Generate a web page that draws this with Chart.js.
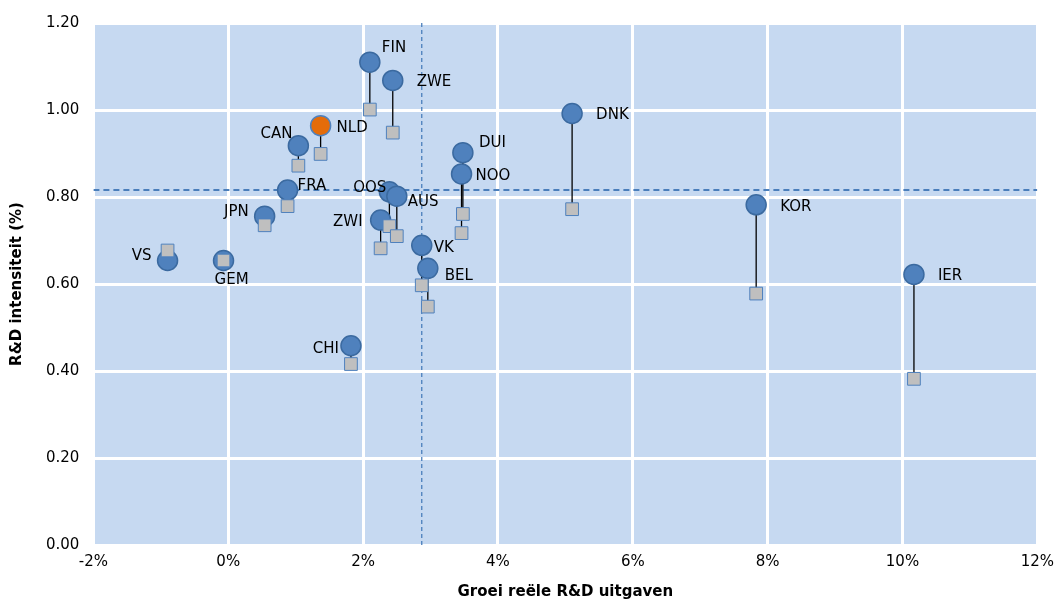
<!DOCTYPE html>
<html><head><meta charset="utf-8">
<script src="https://cdn.jsdelivr.net/npm/chart.js@4"></script>
<style>html,body{margin:0;padding:0;background:#fff}#w{width:1062px;height:601px}</style>
</head><body><div id="w"><canvas id="c"></canvas></div>
<script>
const countries = ["FIN","ZWE","NLD","CAN","DNK","DUI","NOO","FRA","OOS","AUS","JPN","ZWI","KOR","VS","GEM","VK","BEL","IER","CHI"];
const growth    = [2.10,2.44,1.37,1.04,5.10,3.48,3.46,0.88,2.39,2.50,0.54,2.26,7.83,-0.90,-0.07,2.87,2.96,10.17,1.82];
const intensityNow  = [1.110,1.068,0.964,0.918,0.992,0.902,0.853,0.816,0.812,0.802,0.756,0.747,0.782,0.654,0.654,0.689,0.636,0.622,0.458];
const intensityPrev = [1.001,0.948,0.899,0.872,0.772,0.761,0.717,0.779,0.733,0.710,0.735,0.682,0.578,0.677,0.654,0.597,0.548,0.382,0.416];
const avgIntensity = 0.816;
const avgGrowth = 2.87;
const xTicks = [-2,0,2,4,6,8,10,12];
// label placement: [dx, dy, align]
const labelPos = {FIN:[12,-14,'left'],ZWE:[24,2,'left'],NLD:[16,2,'left'],CAN:[-6,-12,'right'],DNK:[24,2,'left'],DUI:[16,-10,'left'],NOO:[14,2,'left'],FRA:[10,-4,'left'],OOS:[-3,-4,'right'],AUS:[11,6,'left'],JPN:[-16,-4,'right'],ZWI:[-18,2,'right'],KOR:[24,2,'left'],VS:[-16,-4,'right'],GEM:[-9,20,'left'],VK:[12,3,'left'],BEL:[17,8,'left'],IER:[24,2,'left'],CHI:[-12,3,'right']};

const connectors = countries.map((c,i)=>({type:'line',data:[{x:growth[i],y:intensityNow[i]},{x:growth[i],y:intensityPrev[i]}],borderColor:'#000',borderWidth:1.3,pointRadius:0,order:3}));
const refLines = [
 {type:'line',data:[{x:-2,y:avgIntensity},{x:12,y:avgIntensity}],borderColor:'#4a7ebb',borderWidth:2,borderDash:[6,4],pointRadius:0,order:4},
 {type:'line',data:[{x:avgGrowth,y:0},{x:avgGrowth,y:1.2}],borderColor:'#4a7ebb',borderWidth:1.3,borderDash:[4,3],pointRadius:0,order:4}
];
const squares = {type:'scatter',data:countries.map((c,i)=>({x:growth[i],y:intensityPrev[i]})),pointStyle:'rect',pointRadius:9,backgroundColor:'#bfbfbf',borderColor:'#4f81bd',borderWidth:1,order:1};
const circles = {type:'scatter',data:countries.map((c,i)=>({x:growth[i],y:intensityNow[i]})),pointStyle:'circle',pointRadius:10,
 backgroundColor:countries.map(c=>c==='NLD'?'#e46c0a':'#4f81bd'),borderColor:countries.map(c=>c==='NLD'?'#4f81bd':'#3b6aa0'),borderWidth:1.5,order:2};

const bgPlugin={id:'bg',beforeDraw(ch){const a=ch.chartArea,g=ch.ctx;g.save();g.fillStyle='#c6d9f1';g.fillRect(a.left,a.top,a.right-a.left,a.bottom-a.top);g.restore();}};
const labelPlugin={id:'lbl',afterDatasetsDraw(ch){const g=ch.ctx,xs=ch.scales.x,ys=ch.scales.y;g.save();g.font='15px "DejaVu Sans"';g.fillStyle='#000';g.textBaseline='middle';
 countries.forEach((c,i)=>{const p=labelPos[c];g.textAlign=p[2];g.fillText(c,xs.getPixelForValue(growth[i])+p[0],ys.getPixelForValue(intensityNow[i])+p[1]);});g.restore();}};

new Chart(document.getElementById('c'),{
 data:{datasets:[circles,squares,...connectors,...refLines]},
 options:{responsive:true,maintainAspectRatio:false,animation:false,
  layout:{padding:{left:8,right:18,top:20,bottom:0}},
  plugins:{legend:{display:false},tooltip:{enabled:false}},
  scales:{
   x:{type:'linear',min:-2,max:12,afterBuildTicks:s=>{s.ticks=xTicks.map(v=>({value:v}));},
      ticks:{callback:v=>v+'%',color:'#000',font:{family:'DejaVu Sans',size:15},padding:8},
      grid:{color:'#fff',lineWidth:3,drawTicks:false},border:{display:false},
      title:{display:true,text:'Groei reële R&D uitgaven',color:'#000',font:{family:'DejaVu Sans',size:15,weight:'bold'},padding:{top:4,bottom:0}}},
   y:{min:0,max:1.2,ticks:{stepSize:0.2,callback:v=>v.toFixed(2),color:'#000',font:{family:'DejaVu Sans',size:15},padding:14},
      grid:{color:'#fff',lineWidth:3,drawTicks:false},border:{display:false},
      title:{display:true,text:'R&D intensiteit (%)',color:'#000',font:{family:'DejaVu Sans',size:15,weight:'bold'},padding:{top:0,bottom:6}}}
  }},
 plugins:[bgPlugin,labelPlugin]
});
</script></body></html>
